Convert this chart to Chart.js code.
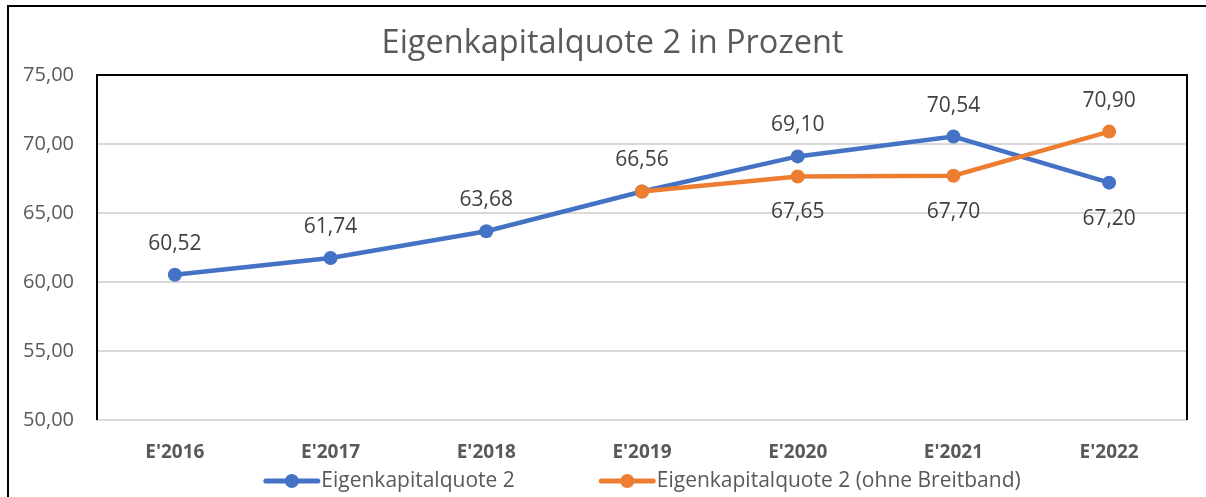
<!DOCTYPE html>
<html>
<head>
<meta charset="utf-8">
<script src="https://cdn.jsdelivr.net/npm/chart.js@4.4.0/dist/chart.umd.min.js"></script>
<style>
  body { margin: 0; background: #fff; }
</style>
</head>
<body>
<canvas id="myChart" width="1206" height="497"></canvas>
<script>
let jahre = ["E'2016", "E'2017", "E'2018", "E'2019", "E'2020", "E'2021", "E'2022"];
let quote2 = [60.52, 61.74, 63.68, 66.56, 69.10, 70.54, 67.20];
let quote2OhneBreitband = [null, null, null, 66.56, 67.65, 67.70, 70.90];
let serienNamen = ["Eigenkapitalquote 2", "Eigenkapitalquote 2 (ohne Breitband)"];
let farben = ['#4472C4', '#ED7D31'];
let yTicks = [50, 55, 60, 65, 70, 75];
let titel = 'Eigenkapitalquote 2 in Prozent';

const schrift = "'Open Sans', sans-serif";

function komma(v) {
    return v.toFixed(2).replace('.', ',');
}

// aussenrahmen, titel + rahmen um den plotbereich
const rahmen = {
    id: 'rahmen',
    beforeDraw(chart) {
        const ctx = chart.ctx;
        ctx.save();
        ctx.fillStyle = '#fff';
        ctx.fillRect(0, 0, chart.width, chart.height);
        ctx.fillStyle = '#000';
        ctx.fillRect(7, 5, 2, chart.height - 5);
        ctx.fillRect(7, 5, chart.width - 7, 2);
        ctx.font = '32.5px ' + schrift;
        ctx.fillStyle = '#595959';
        ctx.textAlign = 'center';
        ctx.textBaseline = 'alphabetic';
        ctx.fillText(titel, (9 + chart.width) / 2 + 5, 53);
        ctx.restore();
    },
    beforeDatasetsDraw(chart) {
        const a = chart.chartArea;
        const ctx = chart.ctx;
        ctx.save();
        ctx.strokeStyle = '#000';
        ctx.lineWidth = 2;
        ctx.beginPath();
        ctx.moveTo(a.left, a.bottom);
        ctx.lineTo(a.left, a.top);
        ctx.lineTo(a.right, a.top);
        ctx.lineTo(a.right, a.bottom);
        ctx.stroke();
        ctx.restore();
    }
};

// werte an den punkten: hoeherer wert oben, niedrigerer unten
const werteLabels = {
    id: 'werteLabels',
    afterDatasetsDraw(chart) {
        const ctx = chart.ctx;
        const sets = chart.data.datasets;
        ctx.save();
        ctx.font = '21px ' + schrift;
        ctx.fillStyle = '#404040';
        ctx.textAlign = 'center';
        ctx.textBaseline = 'alphabetic';
        jahre.forEach((j, i) => {
            sets.forEach((ds, d) => {
                const v = ds.data[i];
                if (v == null) return;
                const andere = sets[1 - d].data[i];
                if (andere === v && d === 1) return;
                const oben = andere == null || v >= andere;
                const pt = chart.getDatasetMeta(d).data[i];
                ctx.fillText(komma(v), pt.x, oben ? pt.y - 25 : pt.y + 42);
            });
        });
        ctx.restore();
    }
};

const legende = {
    id: 'legende',
    afterDraw(chart) {
        const ctx = chart.ctx;
        const area = chart.chartArea;
        ctx.save();
        ctx.font = '21px ' + schrift;
        const linie = 57, luecke = 1, abstand = 84;
        const breiten = serienNamen.map(t => ctx.measureText(t).width);
        const gesamt = breiten.reduce((s, w) => s + linie + luecke + w, 0) + abstand * (serienNamen.length - 1);
        let x = (area.left + area.right) / 2 - gesamt / 2;
        const y = 481;
        serienNamen.forEach((name, i) => {
            ctx.strokeStyle = farben[i];
            ctx.lineWidth = 5;
            ctx.lineCap = 'round';
            ctx.beginPath();
            ctx.moveTo(x + 2.5, y);
            ctx.lineTo(x + linie - 2.5, y);
            ctx.stroke();
            ctx.fillStyle = farben[i];
            ctx.beginPath();
            ctx.arc(x + linie / 2, y, 7, 0, Math.PI * 2);
            ctx.fill();
            ctx.fillStyle = '#595959';
            ctx.textAlign = 'left';
            ctx.textBaseline = 'middle';
            ctx.fillText(name, x + linie + luecke, y);
            x += linie + luecke + breiten[i] + abstand;
        });
        ctx.restore();
    }
};

let chart = new Chart(document.getElementById('myChart'), {
    type: 'line',
    data: {
        labels: jahre,
        datasets: [{
            label: serienNamen[0],
            data: quote2,
            borderColor: farben[0],
            backgroundColor: farben[0],
            borderWidth: 4.5,
            pointRadius: 7,
            pointHoverRadius: 7,
            pointBorderWidth: 0,
            order: 1
        }, {
            label: serienNamen[1],
            data: quote2OhneBreitband,
            borderColor: farben[1],
            backgroundColor: farben[1],
            borderWidth: 4.5,
            pointRadius: 7,
            pointHoverRadius: 7,
            pointBorderWidth: 0,
            order: 0
        }]
    },
    options: {
        responsive: false,
        animation: false,
        layout: { padding: { left: 0, right: 19, top: 75, bottom: 32 } },
        plugins: {
            legend: { display: false },
            tooltip: { enabled: false },
            title: { display: false }
        },
        scales: {
            x: {
                offset: true,
                grid: { display: false },
                border: { color: '#D9D9D9', width: 2 },
                ticks: { color: '#595959', font: { family: schrift, size: 19, weight: 'bold' }, padding: 13 },
                afterFit(s) { s.height = 45; }
            },
            y: {
                min: yTicks[0],
                max: yTicks[yTicks.length - 1],
                ticks: {
                    stepSize: yTicks[1] - yTicks[0],
                    callback: v => komma(v),
                    color: '#595959',
                    font: { family: schrift, size: 20 },
                    padding: 23
                },
                grid: { color: '#D9D9D9', lineWidth: 2, drawTicks: false },
                border: { display: false },
                afterFit(s) { s.width = 97; }
            }
        }
    },
    plugins: [rahmen, werteLabels, legende]
});
</script>
</body>
</html>
